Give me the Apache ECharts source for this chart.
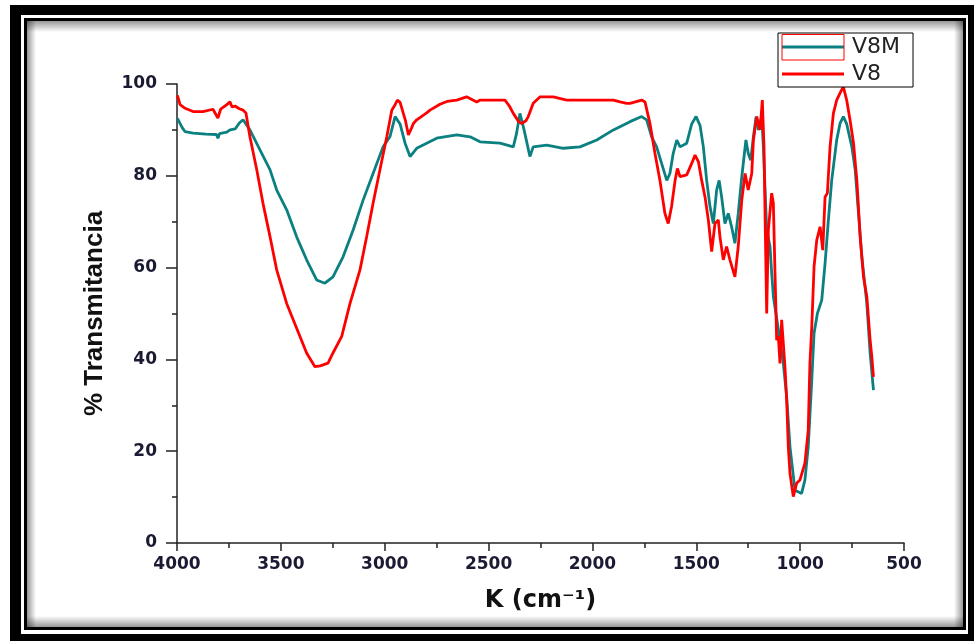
<!DOCTYPE html>
<html>
<head>
<meta charset="utf-8">
<script src="https://cdn.jsdelivr.net/npm/echarts@6/dist/echarts.min.js"></script>
<style>
  html, body { margin: 0; padding: 0; background: #fff; }
  #main { width: 977px; height: 641px; }
</style>
</head>
<body>
<div id="main"></div>
<script>
// V8M (teal) - wavenumber / % transmittance
var v8mK = [3998, 3975, 3961, 3923, 3860, 3810, 3803, 3795, 3760, 3745, 3720, 3700, 3682, 3649, 3600,
  3552, 3520, 3472, 3424, 3376, 3328, 3288, 3249, 3200, 3152, 3104, 3056, 3008, 2975, 2950, 2926,
  2902, 2878, 2846, 2750, 2653, 2589, 2541, 2445, 2381, 2365, 2349, 2329, 2301, 2285, 2220, 2140,
  2060, 1979, 1899, 1819, 1763, 1739, 1715, 1691, 1667, 1642, 1627, 1611, 1594, 1578, 1546, 1522,
  1501, 1482, 1466, 1450, 1434, 1418, 1402, 1390, 1378, 1362, 1346, 1330, 1314, 1298, 1281, 1261,
  1250, 1238, 1225, 1212, 1201, 1185, 1177, 1161, 1145, 1137, 1129, 1097, 1081, 1065, 1049, 1025,
  993, 977, 961, 944, 933, 917, 896, 880, 864, 848, 824, 808, 792, 776, 751, 735, 719, 703, 679,
  663, 647];
var v8mT = [92.5, 90.5, 89.6, 89.3, 89.1, 89.0, 88.2, 89.2, 89.5, 90, 90.2, 91.5, 92.2, 90, 85.6,
  81.3, 76.9, 72.6, 66.7, 61.7, 57.3, 56.6, 58, 62.4, 68.2, 74.7, 80.5, 86.3, 88.5, 92.9, 91.3,
  87.1, 84.2, 86, 88.2, 88.9, 88.5, 87.4, 87.1, 86.3, 89.3, 93.6, 90, 84.2, 86.3, 86.7, 86,
  86.3, 87.8, 90, 91.8, 92.9, 92.2, 88.5, 86.3, 82.7, 79, 80.5, 84.9, 87.8, 86.3, 87.1, 91.3,
  92.9, 91, 86.3, 79, 73.3, 69.6, 76.9, 79, 75.4, 69.6, 71.8, 68.9, 65.3, 71.8, 79.8, 87.8,
  84.9, 83.4, 88.5, 92.9, 90, 92.9, 86.3, 68.2, 64.6, 58.8, 53.7, 44.2, 39.1, 32, 21, 11.5,
  10.8, 13.7, 21, 35.5, 45.7, 50, 52.9, 60.9, 70.4, 79, 87.8, 91.4, 92.9, 91.3, 86.3, 81.3, 71.8, 62.4, 52.2,
  41.3, 33.3];

// V8 (red)
var v8K = [3998, 3985, 3961, 3923, 3875, 3827, 3803, 3790, 3760, 3745, 3735, 3721, 3700, 3682, 3668,
  3649, 3616, 3586, 3552, 3520, 3472, 3408, 3376, 3336, 3310, 3297, 3273, 3249, 3207, 3167, 3119,
  3087, 3056, 3023, 2990, 2966, 2950, 2939, 2926, 2918, 2900, 2886, 2870, 2862, 2846, 2798, 2782,
  2734, 2700, 2653, 2606, 2557, 2540, 2493, 2421, 2400, 2381, 2355, 2341, 2320, 2309, 2285, 2252,
  2188, 2124, 2060, 1979, 1899, 1867, 1835, 1819, 1763, 1747, 1739, 1723, 1699, 1675, 1651, 1635,
  1619, 1602, 1591, 1578, 1546, 1522, 1506, 1490, 1474, 1458, 1442, 1426, 1410, 1394, 1386, 1370,
  1354, 1338, 1314, 1298, 1281, 1265, 1250, 1233, 1225, 1209, 1193, 1182, 1174, 1169, 1161, 1153,
  1137, 1129, 1121, 1113, 1105, 1097, 1089, 1081, 1073, 1065, 1057, 1049, 1033, 1017, 1001, 977,
  961, 953, 944, 933, 920, 904, 891, 880, 869, 856, 840, 824, 808, 792, 776, 760, 743, 727, 711,
  695, 679, 663, 655, 647];
var v8T = [97.5, 95.5, 94.7, 94.0, 94.0, 94.5, 92.6, 94.5, 95.5, 96.1, 95.0, 95.2, 94.6, 94.3, 93.7,
  88.5, 81.3, 74, 66.7, 59.5, 52.2, 45, 41.4, 38.4, 38.6, 38.8, 39.2, 41.4, 45, 52.2, 59.5,
  66.7, 74, 81.3, 88.5, 94.3, 95.5, 96.5, 96.0, 95.8, 92, 88.9, 90.5, 91.4, 92.2, 93.7, 94.3,
  95.6, 96.2, 96.5, 97.2, 96.1, 96.5, 96.5, 96.5, 95.2, 93.6, 91.8, 91.4, 92.0, 92.9, 95.8, 97.2,
  97.2, 96.5, 96.5, 96.5, 96.5, 96.1, 95.8, 95.8, 96.5, 96.1, 95.8, 91.4, 84.9, 79, 71.8, 69.6,
  73.3, 79, 81.6, 79.8, 80.2, 82.7, 84.5, 83.1, 79, 75.4, 70.4, 63.5, 69.6, 70.4, 66.7, 61.7,
  64.6, 61.7, 58, 64.6, 74.7, 80.5, 76.9, 80.5, 87.8, 92.9, 90, 96.5, 86.3, 71.8, 50, 68.2,
  76.2, 74, 58.8, 44.2, 45, 39.1, 48.6, 48.6, 38.4, 31.2, 21, 15.2, 10.1, 13, 13.7, 17.4,
  24.6, 39.1, 47.1, 60.2, 66, 68.9, 63.8, 75.4, 76.2, 86.3, 93.6, 96.5, 98, 99.4, 96.5, 92.2, 87.1, 79, 66.7,
  58, 53.7, 44.2, 40.6, 36.2];

var seriesNames = ['V8M', 'V8'];
var seriesColors = ['#0b8080', '#ff0000'];

function pairs(xs, ys) {
  return xs.map(function (x, i) { return [x, ys[i]]; });
}

function fade(x, y, w, h, vertical, darkFirst) {
  var a = 'rgba(0,0,0,0.4)', b = 'rgba(0,0,0,0)';
  var stops = darkFirst ? [{ offset: 0, color: a }, { offset: 1, color: b }] : [{ offset: 0, color: b }, { offset: 1, color: a }];
  var grad = vertical ? new echarts.graphic.LinearGradient(0, 0, 0, 1, stops) : new echarts.graphic.LinearGradient(0, 0, 1, 0, stops);
  return { type: 'rect', z: -6, silent: true, shape: { x: x, y: y, width: w, height: h }, style: { fill: grad } };
}

var myChart = echarts.init(document.getElementById('main'));
var option = {
  backgroundColor: '#fff',
  animation: false,
  textStyle: { fontFamily: 'Liberation Sans, Arial, sans-serif' },
  graphic: [
    { type: 'rect', z: -10, silent: true, shape: { x: 10, y: 5, width: 964, height: 636 }, style: { fill: '#000' } },
    { type: 'rect', z: -9, silent: true, shape: { x: 21, y: 15, width: 947, height: 619 }, style: { fill: '#fff' } },
    { type: 'rect', z: -8, silent: true, shape: { x: 24, y: 18, width: 942, height: 612 }, style: { fill: '#000' } },
    { type: 'rect', z: -7, silent: true, shape: { x: 27, y: 21, width: 936, height: 606 }, style: { fill: '#fff' } },
    fade(27, 21, 936, 11, true, true),
    fade(27, 616, 936, 11, true, false),
    fade(27, 21, 9, 606, false, true),
    fade(954, 21, 9, 606, false, false),
    { type: 'rect', z: 200, silent: true, shape: { x: 782, y: 34.5, width: 62, height: 25.5 }, style: { fill: 'none', stroke: '#ff0000', lineWidth: 1 } }
  ],
  legend: {
    data: seriesNames,
    orient: 'vertical',
    left: 778,
    top: 33,
    padding: [3, 13, 2, 4],
    itemGap: 5,
    itemWidth: 62,
    itemHeight: 3,
    icon: 'rect',
    borderColor: '#000',
    borderWidth: 1,
    borderRadius: 0,
    backgroundColor: '#fff',
    textStyle: { fontFamily: 'DejaVu Sans', fontSize: 22, color: '#222', padding: [0, 0, 0, 3] }
  },
  grid: { left: 177, right: 73, top: 84, bottom: 98 },
  xAxis: {
    type: 'value',
    inverse: true,
    min: 500,
    max: 4000,
    interval: 500,
    name: 'K (cm⁻¹)',
    nameLocation: 'middle',
    nameGap: 46,
    nameTextStyle: { fontFamily: 'DejaVu Sans', fontSize: 24, fontWeight: 'bold', color: '#111' },
    axisLine: { show: true, lineStyle: { color: '#222', width: 1.5 } },
    axisTick: { show: true, length: 8, lineStyle: { color: '#222', width: 1.5 } },
    minorTick: { show: true, splitNumber: 2, length: 5, lineStyle: { color: '#222', width: 1.5 } },
    axisLabel: {
      fontFamily: 'DejaVu Sans', fontSize: 17, fontWeight: 'bold', color: '#1a1a33', margin: 13,
      formatter: function (v) { return String(v); }
    },
    splitLine: { show: false }
  },
  yAxis: {
    type: 'value',
    min: 0,
    max: 100,
    interval: 20,
    name: '% Transmitancia',
    nameLocation: 'middle',
    nameGap: 69,
    nameTextStyle: { fontSize: 26, fontWeight: 'bold', color: '#111' },
    axisLine: { show: true, lineStyle: { color: '#222', width: 1.5 } },
    axisTick: { show: true, length: 11, lineStyle: { color: '#222', width: 1.5 } },
    minorTick: { show: true, splitNumber: 2, length: 5, lineStyle: { color: '#222', width: 1.5 } },
    axisLabel: { fontFamily: 'DejaVu Sans', fontSize: 17, fontWeight: 'bold', color: '#1a1a33', margin: 20 },
    splitLine: { show: false }
  },
  series: [
    {
      name: seriesNames[0],
      type: 'line',
      showSymbol: false,
      color: seriesColors[0],
      lineStyle: { width: 2.8, color: seriesColors[0] },
      data: pairs(v8mK, v8mT)
    },
    {
      name: seriesNames[1],
      type: 'line',
      showSymbol: false,
      color: seriesColors[1],
      lineStyle: { width: 2.8, color: seriesColors[1] },
      data: pairs(v8K, v8T)
    }
  ]
};
myChart.setOption(option);
</script>
</body>
</html>
